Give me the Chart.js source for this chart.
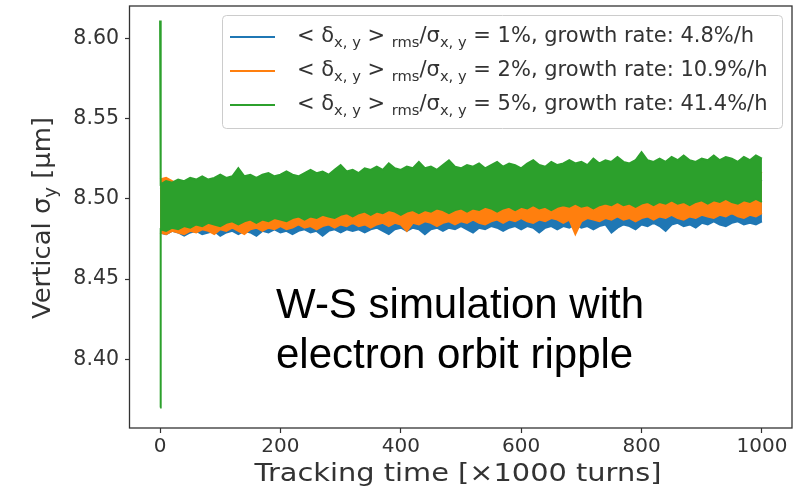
<!DOCTYPE html>
<html>
<head>
<meta charset="utf-8">
<script src="https://cdn.jsdelivr.net/npm/chart.js@4.4.0/dist/chart.umd.min.js"></script>
<style>
  html, body { margin: 0; padding: 0; background: #fff; }
  canvas { display: block; }
</style>
</head>
<body>
<canvas id="c" width="802" height="490"></canvas>
<script>
// Sample times in units of 1000 turns: the injection spike at 0, then every 10.
const turns = [0, 1].concat(Array.from({ length: 100 }, (_, i) => (i + 1) * 10));

// Envelope of the vertical beam size (µm) for each ripple amplitude.
// Rows: [t=0, t=1], then t=10..100, 110..200, ..., 910..1000.
const blueUpper = [
  8.507, 8.507,
  8.506, 8.507, 8.505, 8.506, 8.505, 8.506, 8.507, 8.505, 8.506, 8.507,
  8.505, 8.506, 8.507, 8.506, 8.507, 8.505, 8.507, 8.506, 8.508, 8.506,
  8.507, 8.508, 8.506, 8.507, 8.508, 8.506, 8.508, 8.507, 8.508, 8.506,
  8.508, 8.507, 8.509, 8.507, 8.508, 8.509, 8.507, 8.508, 8.509, 8.507,
  8.509, 8.508, 8.509, 8.507, 8.509, 8.508, 8.510, 8.508, 8.509, 8.510,
  8.508, 8.509, 8.510, 8.508, 8.510, 8.509, 8.510, 8.508, 8.510, 8.509,
  8.511, 8.509, 8.510, 8.511, 8.509, 8.510, 8.511, 8.509, 8.511, 8.510,
  8.511, 8.509, 8.511, 8.510, 8.512, 8.510, 8.511, 8.512, 8.510, 8.511,
  8.512, 8.510, 8.512, 8.511, 8.512, 8.510, 8.512, 8.511, 8.513, 8.511,
  8.512, 8.513, 8.511, 8.512, 8.513, 8.511, 8.513, 8.512, 8.513, 8.511
];
const blueLower = [
  8.479, 8.479,
  8.478, 8.480, 8.479, 8.477, 8.479, 8.480, 8.478, 8.479, 8.480, 8.477,
  8.479, 8.480, 8.478, 8.480, 8.479, 8.477, 8.480, 8.479, 8.481, 8.479,
  8.480, 8.478, 8.480, 8.481, 8.479, 8.480, 8.477, 8.480, 8.481, 8.479,
  8.481, 8.480, 8.481, 8.479, 8.481, 8.482, 8.480, 8.478, 8.481, 8.482,
  8.480, 8.482, 8.481, 8.478, 8.481, 8.482, 8.480, 8.482, 8.481, 8.483,
  8.481, 8.479, 8.482, 8.481, 8.483, 8.482, 8.480, 8.482, 8.483, 8.481,
  8.483, 8.482, 8.479, 8.482, 8.483, 8.481, 8.483, 8.482, 8.484, 8.482,
  8.483, 8.481, 8.483, 8.484, 8.479, 8.482, 8.484, 8.483, 8.481, 8.484,
  8.483, 8.485, 8.483, 8.480, 8.484, 8.485, 8.483, 8.484, 8.482, 8.485,
  8.484, 8.486, 8.484, 8.483, 8.485, 8.486, 8.484, 8.485, 8.484, 8.486
];
const orangeUpper = [
  8.512, 8.512,
  8.513, 8.511, 8.509, 8.508, 8.507, 8.508, 8.507, 8.509, 8.508, 8.507,
  8.509, 8.508, 8.510, 8.508, 8.509, 8.507, 8.509, 8.510, 8.508, 8.509,
  8.510, 8.508, 8.509, 8.511, 8.509, 8.510, 8.508, 8.510, 8.511, 8.509,
  8.510, 8.511, 8.509, 8.511, 8.510, 8.512, 8.510, 8.511, 8.512, 8.510,
  8.511, 8.512, 8.510, 8.512, 8.511, 8.513, 8.511, 8.512, 8.513, 8.511,
  8.512, 8.513, 8.511, 8.513, 8.512, 8.514, 8.512, 8.513, 8.514, 8.512,
  8.513, 8.514, 8.512, 8.514, 8.513, 8.515, 8.513, 8.514, 8.515, 8.513,
  8.514, 8.515, 8.513, 8.515, 8.514, 8.516, 8.514, 8.515, 8.516, 8.514,
  8.515, 8.516, 8.514, 8.516, 8.515, 8.517, 8.515, 8.516, 8.517, 8.515,
  8.516, 8.517, 8.515, 8.517, 8.516, 8.518, 8.516, 8.517, 8.518, 8.516
];
const orangeLower = [
  8.479, 8.479,
  8.478, 8.480, 8.479, 8.478, 8.480, 8.479, 8.481, 8.480, 8.478, 8.481,
  8.480, 8.482, 8.480, 8.478, 8.481, 8.482, 8.480, 8.482, 8.481, 8.483,
  8.481, 8.482, 8.484, 8.482, 8.483, 8.481, 8.483, 8.484, 8.482, 8.484,
  8.483, 8.485, 8.483, 8.484, 8.482, 8.484, 8.485, 8.483, 8.485, 8.484,
  8.480, 8.485, 8.484, 8.486, 8.485, 8.483, 8.485, 8.486, 8.484, 8.486,
  8.485, 8.487, 8.485, 8.484, 8.486, 8.487, 8.485, 8.487, 8.486, 8.488,
  8.486, 8.485, 8.487, 8.486, 8.488, 8.487, 8.485, 8.487, 8.478, 8.486,
  8.488, 8.487, 8.486, 8.488, 8.487, 8.489, 8.487, 8.488, 8.486, 8.488,
  8.489, 8.487, 8.489, 8.488, 8.490, 8.488, 8.487, 8.489, 8.488, 8.490,
  8.489, 8.488, 8.490, 8.489, 8.491, 8.489, 8.488, 8.490, 8.489, 8.491
];
const greenUpper = [
  8.611, 8.509,
  8.511, 8.510, 8.512, 8.511, 8.513, 8.512, 8.514, 8.512, 8.513, 8.515,
  8.513, 8.514, 8.519, 8.514, 8.515, 8.513, 8.515, 8.516, 8.514, 8.515,
  8.517, 8.515, 8.514, 8.516, 8.518, 8.516, 8.517, 8.515, 8.518, 8.521,
  8.517, 8.518, 8.516, 8.519, 8.518, 8.520, 8.518, 8.522, 8.519, 8.518,
  8.520, 8.519, 8.523, 8.519, 8.520, 8.518, 8.521, 8.524, 8.520, 8.519,
  8.521, 8.520, 8.522, 8.519, 8.521, 8.523, 8.520, 8.522, 8.521, 8.519,
  8.522, 8.524, 8.521, 8.520, 8.523, 8.521, 8.522, 8.524, 8.522, 8.523,
  8.521, 8.525, 8.522, 8.524, 8.523, 8.526, 8.523, 8.522, 8.524, 8.529,
  8.524, 8.523, 8.525, 8.523, 8.526, 8.524, 8.527, 8.524, 8.523, 8.525,
  8.524, 8.527, 8.524, 8.526, 8.525, 8.523, 8.526, 8.524, 8.527, 8.525
];
const greenLower = [
  8.370, 8.481,
  8.480, 8.482, 8.481, 8.483, 8.482, 8.484, 8.483, 8.485, 8.484, 8.483,
  8.485, 8.486, 8.484, 8.486, 8.487, 8.485, 8.487, 8.486, 8.488, 8.487,
  8.486, 8.488, 8.489, 8.487, 8.489, 8.488, 8.490, 8.489, 8.488, 8.490,
  8.491, 8.489, 8.491, 8.492, 8.490, 8.492, 8.491, 8.493, 8.492, 8.490,
  8.492, 8.493, 8.491, 8.493, 8.492, 8.494, 8.493, 8.491, 8.493, 8.494,
  8.492, 8.494, 8.493, 8.495, 8.494, 8.492, 8.494, 8.495, 8.493, 8.495,
  8.494, 8.496, 8.494, 8.495, 8.493, 8.495, 8.496, 8.495, 8.497, 8.495,
  8.496, 8.494, 8.496, 8.497, 8.496, 8.498, 8.496, 8.497, 8.495, 8.497,
  8.498, 8.496, 8.498, 8.497, 8.499, 8.497, 8.498, 8.496, 8.498, 8.499,
  8.497, 8.499, 8.498, 8.500, 8.498, 8.497, 8.499, 8.498, 8.500, 8.498
];

// Legend text pieces and axis ticks.
const ripplePct = ['1%', '2%', '5%'];
const growthRates = ['4.8%/h', '10.9%/h', '41.4%/h'];
const xTicks = [0, 200, 400, 600, 800, 1000];
const yTicks = [8.40, 8.45, 8.50, 8.55, 8.60];

const colors = ['#1f77b4', '#ff7f0e', '#2ca02c'];
const AXIS = '#333333';
const SANS = '"DejaVu Sans", sans-serif';

const pts = arr => arr.map((v, i) => ({ x: turns[i], y: v }));

function band(upper, lower, color, order) {
  const common = { borderColor: color, borderWidth: 2, pointRadius: 0, tension: 0, order: order };
  return [
    Object.assign({ data: pts(upper), backgroundColor: color, fill: '+1' }, common),
    Object.assign({ data: pts(lower), fill: false }, common)
  ];
}

const datasets = [].concat(
  band(blueUpper, blueLower, colors[0], 3),
  band(orangeUpper, orangeLower, colors[1], 2),
  band(greenUpper, greenLower, colors[2], 1)
);

// Text runs with subscripted pieces.
function richWidth(ctx, segs, size) {
  let w = 0;
  for (const s of segs) {
    ctx.font = (s.sub ? size * 0.7 : size) + 'px ' + SANS;
    w += ctx.measureText(s.t).width;
  }
  return w;
}
function drawRich(ctx, segs, x, y, size) {
  for (const s of segs) {
    ctx.font = (s.sub ? size * 0.7 : size) + 'px ' + SANS;
    ctx.fillText(s.t, x, y + (s.sub ? size * 0.26 : 0));
    x += ctx.measureText(s.t).width;
  }
  return x;
}

const decor = {
  id: 'decor',
  afterDraw(chart) {
    const ctx = chart.ctx;
    const a = chart.chartArea;
    ctx.save();

    // axes frame
    ctx.strokeStyle = AXIS;
    ctx.lineWidth = 1.3;
    ctx.strokeRect(a.left - 0.5, a.top, a.right - a.left + 0.5, a.bottom - a.top);

    ctx.fillStyle = '#333';
    ctx.textBaseline = 'alphabetic';
    ctx.textAlign = 'left';

    // y-axis title
    const ySegs = [{ t: 'Vertical σ' }, { t: 'y', sub: true }, { t: ' [μm]' }];
    const ySize = 24;
    const yw = richWidth(ctx, ySegs, ySize);
    ctx.save();
    ctx.translate(50, (a.top + a.bottom) / 2 + 1);
    ctx.rotate(-Math.PI / 2);
    ctx.scale(202 / yw, 1);
    drawRich(ctx, ySegs, -yw / 2, 0, ySize);
    ctx.restore();

    // x-axis title
    const xt = 'Tracking time [×1000 turns]';
    ctx.font = '25px ' + SANS;
    const xw = ctx.measureText(xt).width;
    ctx.save();
    ctx.translate(458, 481);
    ctx.scale(407 / xw, 1);
    ctx.textAlign = 'center';
    ctx.fillText(xt, 0, 0);
    ctx.restore();

    // legend
    const bx = 222, by = 15, bw = 560, bh = 113;
    ctx.fillStyle = 'rgba(255,255,255,0.8)';
    ctx.strokeStyle = '#cccccc';
    ctx.lineWidth = 1;
    ctx.beginPath();
    ctx.roundRect(bx + 0.5, by + 0.5, bw, bh, 4);
    ctx.fill();
    ctx.stroke();
    for (let i = 0; i < 3; i++) {
      const base = 42 + i * 34;
      ctx.strokeStyle = colors[i];
      ctx.lineWidth = 2;
      ctx.beginPath();
      ctx.moveTo(230, base - 5);
      ctx.lineTo(275, base - 5);
      ctx.stroke();
      ctx.fillStyle = '#333';
      const segs = [
        { t: '< δ' }, { t: 'x, y', sub: true }, { t: ' > ' }, { t: 'rms', sub: true },
        { t: '/σ' }, { t: 'x, y', sub: true },
        { t: ' = ' + ripplePct[i] + ', growth rate: ' + growthRates[i] }
      ];
      drawRich(ctx, segs, 297, base, 21);
    }

    // annotation
    ctx.fillStyle = '#000';
    ctx.font = '42px "Liberation Sans", Arial, sans-serif';
    ctx.fillText('W-S simulation with', 276, 318);
    ctx.fillText('electron orbit ripple', 276, 368);

    ctx.restore();
  }
};

new Chart(document.getElementById('c'), {
  type: 'line',
  data: { datasets: datasets },
  options: {
    responsive: false,
    animation: false,
    events: [],
    layout: { padding: { left: 0, right: 10, top: 6, bottom: 0 } },
    plugins: { legend: { display: false }, tooltip: { enabled: false } },
    scales: {
      x: {
        type: 'linear', min: -50, max: 1050,
        afterBuildTicks: s => { s.ticks = xTicks.map(v => ({ value: v })); },
        afterFit: s => { s.height = 62; s.paddingLeft = 0; s.paddingRight = 0; },
        ticks: { font: { family: SANS, size: 20 }, color: '#333', padding: 2, maxRotation: 0, autoSkip: false, callback: v => String(v) },
        grid: { drawOnChartArea: false, drawTicks: true, tickLength: 5, tickWidth: 1.2, tickColor: AXIS },
        border: { display: false }
      },
      y: {
        type: 'linear', min: 8.3572, max: 8.6201,
        afterBuildTicks: s => { s.ticks = yTicks.map(v => ({ value: v })); },
        afterFit: s => { s.width = 130; s.paddingTop = 0; s.paddingBottom = 0; },
        ticks: { font: { family: SANS, size: 20.5 }, color: '#333', padding: 6, autoSkip: false, callback: v => v.toFixed(2) },
        grid: { drawOnChartArea: false, drawTicks: true, tickLength: 5, tickWidth: 1.2, tickColor: AXIS },
        border: { display: false }
      }
    }
  },
  plugins: [decor]
});
</script>
</body>
</html>
